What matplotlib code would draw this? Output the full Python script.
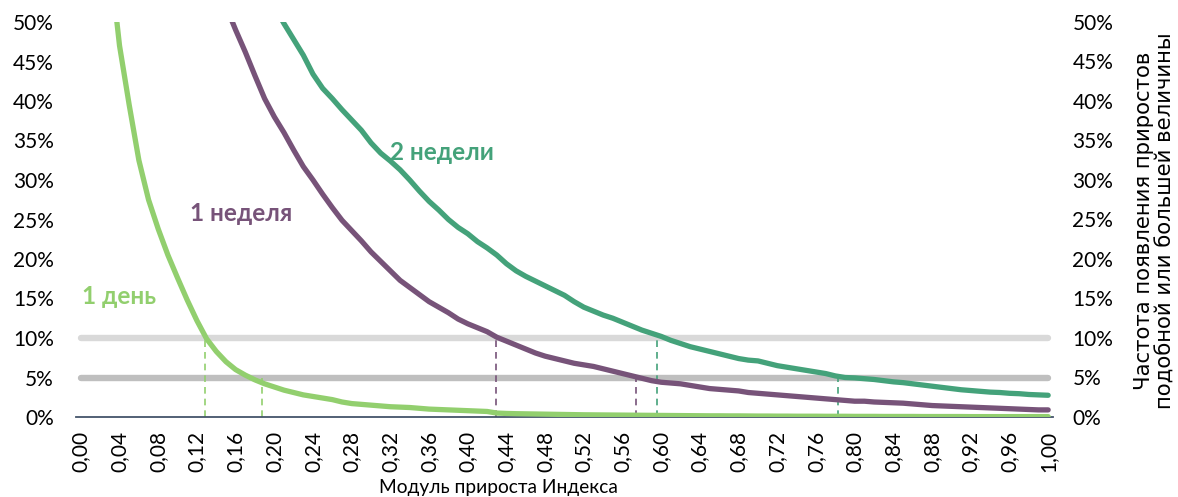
import numpy as np
import matplotlib
matplotlib.use("Agg")
import matplotlib.pyplot as plt
from matplotlib.ticker import FixedLocator, FuncFormatter

# x: module of index growth, step 0.01
x_vals = [round(i * 0.01, 2) for i in range(101)]

day1 = [100, 86, 72, 58, 47, 39.5, 32.5, 27.5, 23.8, 20.5,
        17.6, 14.8, 12.2, 9.9, 8.3, 7.0, 6.0, 5.3, 4.7, 4.2,
        3.8, 3.4, 3.1, 2.8, 2.6, 2.4, 2.2, 1.9, 1.7, 1.6,
        1.5, 1.4, 1.3, 1.25, 1.2, 1.1, 1.0, 0.95, 0.9, 0.85,
        0.8, 0.75, 0.7, 0.5, 0.45, 0.42, 0.4, 0.38, 0.36, 0.34,
        0.32, 0.3, 0.28, 0.27, 0.26, 0.25, 0.24, 0.23, 0.22, 0.21,
        0.2, 0.19, 0.18, 0.17, 0.16, 0.15, 0.15, 0.14, 0.14, 0.13,
        0.12, 0.12, 0.11, 0.11, 0.1, 0.1, 0.1, 0.09, 0.09, 0.09,
        0.08, 0.08, 0.08, 0.07, 0.07, 0.07, 0.07, 0.06, 0.06, 0.06,
        0.06, 0.06, 0.05, 0.05, 0.05, 0.05, 0.05, 0.05, 0.05, 0.05,
        0.05]

week1 = [200, 180, 165, 150, 138, 126, 116, 106, 97, 89,
         81, 74, 68, 62, 57, 52, 49, 46.2, 43.2, 40.3,
         38, 36, 33.8, 31.7, 30.0, 28.2, 26.5, 24.9, 23.6, 22.3,
         20.9, 19.7, 18.5, 17.3, 16.4, 15.5, 14.6, 13.9, 13.2, 12.4,
         11.8, 11.3, 10.8, 10.1, 9.6, 9.1, 8.6, 8.1, 7.7, 7.4,
         7.1, 6.8, 6.6, 6.4, 6.1, 5.8, 5.5, 5.2, 4.9, 4.6,
         4.4, 4.3, 4.2, 4.0, 3.8, 3.6, 3.5, 3.4, 3.3, 3.1,
         3.0, 2.9, 2.8, 2.7, 2.6, 2.5, 2.4, 2.3, 2.2, 2.1,
         2.0, 2.0, 1.9, 1.85, 1.8, 1.75, 1.65, 1.55, 1.45, 1.4,
         1.35, 1.3, 1.25, 1.2, 1.15, 1.1, 1.05, 1.0, 0.95, 0.9,
         0.9]

week2 = [250, 230, 210, 195, 180, 165, 152, 140, 130, 120,
         110, 101, 93, 86, 80, 74, 68, 63, 58.5, 55,
         52, 49.8, 47.8, 45.8, 43.4, 41.6, 40.3, 38.9, 37.6, 36.3,
         34.7, 33.4, 32.4, 31.3, 30.0, 28.6, 27.3, 26.2, 25.0, 24.0,
         23.2, 22.2, 21.4, 20.5, 19.4, 18.5, 17.8, 17.2, 16.6, 16.0,
         15.4, 14.6, 13.9, 13.4, 12.9, 12.5, 12.0, 11.5, 11.0, 10.6,
         10.2, 9.7, 9.3, 8.9, 8.6, 8.3, 8.0, 7.7, 7.4, 7.2,
         7.1, 6.8, 6.5, 6.3, 6.1, 5.9, 5.7, 5.5, 5.2, 5.0,
         4.95, 4.85, 4.75, 4.6, 4.45, 4.35, 4.2, 4.05, 3.9, 3.75,
         3.6, 3.45, 3.35, 3.25, 3.15, 3.1, 3.0, 2.95, 2.85, 2.8,
         2.75]

series_names = ["1 день", "1 неделя", "2 недели"]
series_colors = ["#92CF6E", "#775379", "#44A27A"]

thresholds = [10, 5]
threshold_colors = ["#D9D9D9", "#BFBFBF"]

# crossing points (x) of each series with 10% and 5% thresholds
cross_x = {"1 день": [0.128, 0.187],
           "1 неделя": [0.429, 0.574],
           "2 недели": [0.596, 0.783]}

y_ticks = [0, 5, 10, 15, 20, 25, 30, 35, 40, 45, 50]
x_ticks = [round(i * 0.04, 2) for i in range(26)]

plt.rcParams['font.family'] = ['Lato', 'DejaVu Sans']

W, H = 1178, 497
fig = plt.figure(figsize=(W / 100, H / 100), dpi=100)
ax_l, ax_r = 76, 1053
ax_b, ax_t = 417, 22
ax = fig.add_axes([ax_l / W, 1 - ax_b / H, (ax_r - ax_l) / W, (ax_b - ax_t) / H])
ax.set_xlim(-0.005, 1.005)
ax.set_ylim(0, 50)

# threshold lines
for t, c in zip(thresholds, threshold_colors):
    ax.plot([0, 1], [t, t], color=c, lw=4.6, solid_capstyle='round', zorder=1)

# dashed drop lines
for name, col in zip(series_names, series_colors):
    for xv, t in zip(cross_x[name], thresholds):
        ax.plot([xv, xv], [0, t], color=col, lw=1.2, ls=(0, (4, 3)), zorder=2)

for data, col in zip([day1, week1, week2], series_colors):
    ax.plot(x_vals, data, color=col, lw=3.8, zorder=3, solid_capstyle='round')

for s in ['top', 'right', 'left']:
    ax.spines[s].set_visible(False)
ax.spines['bottom'].set_color('#44546A')
ax.spines['bottom'].set_linewidth(1.3)
ax.spines['bottom'].set_zorder(2.5)

ax.xaxis.set_major_locator(FixedLocator(x_ticks))
ax.xaxis.set_major_formatter(FuncFormatter(lambda v, p: f"{v:.2f}".replace('.', ',')))
ax.tick_params(axis='x', length=0, pad=10, labelsize=15, rotation=90)
ax.yaxis.set_major_locator(FixedLocator(y_ticks))
ax.yaxis.set_major_formatter(FuncFormatter(lambda v, p: f"{v:.0f}%"))
ax.tick_params(axis='y', length=0, pad=16, labelsize=15)

ax2 = ax.twinx()
ax2.set_ylim(0, 50)
for s in ['top', 'right', 'left', 'bottom']:
    ax2.spines[s].set_visible(False)
ax2.yaxis.set_major_locator(FixedLocator(y_ticks))
ax2.yaxis.set_major_formatter(FuncFormatter(lambda v, p: f"{v:.0f}%"))
ax2.tick_params(axis='y', length=0, pad=14, labelsize=15)

fig.text(1154.5 / W, 1 - 221 / H,
         "Частота появления приростов\nподобной или большей величины",
         family=['DejaVu Sans'], fontsize=15.3, rotation=90,
         ha='center', va='center', linespacing=1.1, multialignment='center')

fig.text(498 / W, 1 - 488 / H, "Модуль прироста Индекса",
         fontsize=13.8, ha='center', va='center')

# series labels
label_pos = [(0.001, 15.2), (0.113, 25.8), (0.3195, 33.5)]
for name, col, (lx, ly) in zip(series_names, series_colors, label_pos):
    ax.text(lx, ly, name, color=col, fontsize=17.5, fontweight='bold',
            ha='left', va='center', zorder=4)

fig.savefig("out.png", dpi=100)
